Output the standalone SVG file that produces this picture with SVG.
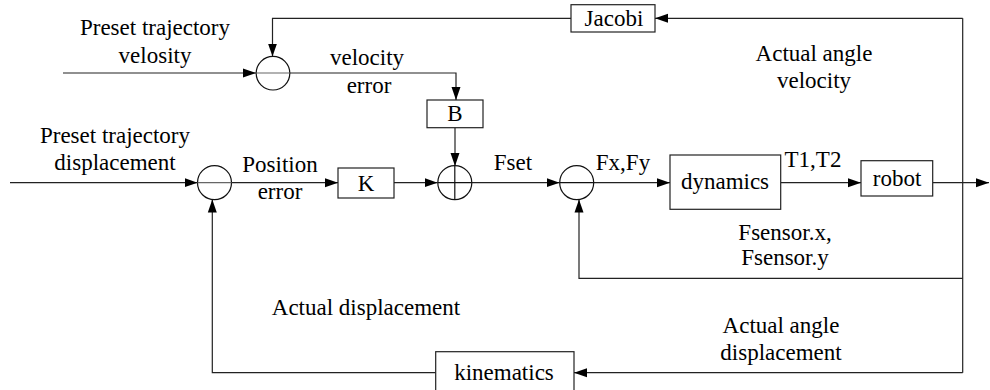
<svg xmlns="http://www.w3.org/2000/svg" width="990" height="390" viewBox="0 0 990 390">
<style>
text{font-family:'Liberation Serif','Times New Roman',Tinos,'DejaVu Serif',serif;font-size:23px;fill:#000;text-anchor:middle}
.box{fill:#fff;stroke:#222;stroke-width:1.2}
.sum{fill:#fff;stroke:#111;stroke-width:1.2}
.dia{stroke:#666;stroke-width:1.2}
.c{fill:none;stroke:#222;stroke-width:1.2}
</style>
<defs>
<marker id="a" markerUnits="userSpaceOnUse" markerWidth="14" markerHeight="10" refX="13" refY="5" orient="auto">
<path d="M0,0.5 L13,5 L0,9.5 z" fill="#000"/>
</marker>
</defs>
<g id="connectors">
<path class="c" d="M63,73 L256,73" marker-end="url(#a)"/>
<path class="c" d="M571,18.3 L272.5,18.3 L272.5,56.5" marker-end="url(#a)"/>
<path class="c" d="M290,73 L456,73 L456,100" marker-end="url(#a)"/>
<path class="c" d="M455,128 L455,166" marker-end="url(#a)"/>
<path class="c" d="M10,182.7 L197.5,182.7" marker-end="url(#a)"/>
<path class="c" d="M231.5,182.7 L338,182.7" marker-end="url(#a)"/>
<path class="c" d="M394,182.7 L437.5,182.7" marker-end="url(#a)"/>
<path class="c" d="M472,182.7 L559.5,182.7" marker-end="url(#a)"/>
<path class="c" d="M594,182.7 L670,182.7" marker-end="url(#a)"/>
<path class="c" d="M781,182.7 L861,182.7" marker-end="url(#a)"/>
<path class="c" d="M933,182.7 L989,182.7" marker-end="url(#a)"/>
<path class="c" d="M962.7,18.3 L962.7,372.7"/>
<path class="c" d="M962.7,18.3 L655,18.3" marker-end="url(#a)"/>
<path class="c" d="M962.7,372.7 L574,372.7" marker-end="url(#a)"/>
<path class="c" d="M962.7,278.3 L579,278.3 L579,199.5" marker-end="url(#a)"/>
<path class="c" d="M435.7,372.7 L212.3,372.7 L212.3,199.5" marker-end="url(#a)"/>
</g>
<g id="sum_velocity">
<circle class="sum" cx="273" cy="73.2" r="16.8"/>
<line class="dia" x1="256.2" y1="73" x2="289.8" y2="73"/>
</g>
<g id="sum_position">
<circle class="sum" cx="214.5" cy="182.7" r="17"/>
<line class="dia" x1="197.5" y1="182.7" x2="231.5" y2="182.7"/>
</g>
<g id="sum_force">
<circle class="sum" cx="454.8" cy="182.7" r="17"/>
<line class="sum" x1="437.8" y1="182.7" x2="471.8" y2="182.7"/>
<line class="sum" x1="454.8" y1="165.7" x2="454.8" y2="199.7"/>
</g>
<g id="sum_fx">
<circle class="sum" cx="576.7" cy="182.7" r="17"/>
<line class="sum" x1="559.7" y1="182.7" x2="593.7" y2="182.7"/>
</g>
<g id="jacobi">
<rect class="box" x="571" y="4.7" width="84" height="27.3"/>
<text x="614" y="25.5">Jacobi</text>
</g>
<g id="B">
<rect class="box" x="427" y="100" width="56" height="27.7"/>
<text x="455" y="121">B</text>
</g>
<g id="K">
<rect class="box" x="338" y="168" width="56" height="30"/>
<text x="366" y="191">K</text>
</g>
<g id="dynamics">
<rect class="box" x="670" y="155" width="110.7" height="54.3"/>
<text x="725" y="189">dynamics</text>
</g>
<g id="robot">
<rect class="box" x="861" y="160.7" width="71.7" height="35.3"/>
<text x="897" y="186">robot</text>
</g>
<g id="kinematics">
<rect class="box" x="435.7" y="351.7" width="138.3" height="42"/>
<text x="504" y="380">kinematics</text>
</g>
<g id="labels">
<text x="155" y="35">Preset trajectory</text>
<text x="155" y="63">velosity</text>
<text x="115" y="143">Preset trajectory</text>
<text x="115" y="170">displacement</text>
<text x="280" y="172">Position</text>
<text x="280" y="199">error</text>
<text x="367" y="65">velocity</text>
<text x="369" y="93">error</text>
<text x="513" y="170">Fset</text>
<text x="623" y="170">Fx,Fy</text>
<text x="814" y="61">Actual angle</text>
<text x="814" y="88">velocity</text>
<text x="813" y="167">T1,T2</text>
<text x="785" y="240">Fsensor.x,</text>
<text x="785" y="265">Fsensor.y</text>
<text x="366" y="315">Actual displacement</text>
<text x="781" y="333">Actual angle</text>
<text x="781" y="360">displacement</text>
</g>
</svg>
